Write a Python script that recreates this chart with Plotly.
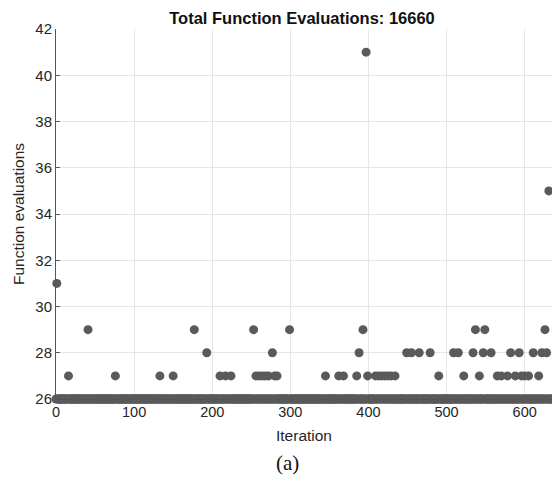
import plotly.graph_objects as go

# Data
n_iterations = 636
base_evals = 26
iters_27 = [16, 76, 133, 150, 210, 217, 224, 256, 260, 264, 268, 272, 280, 283,
            345, 362, 368, 385, 399, 409, 413, 417, 421, 425, 429, 434, 490, 522,
            542, 565, 570, 578, 588, 596, 600, 605, 618]
iters_28 = [193, 277, 388, 449, 455, 465, 479, 509, 515, 534, 547, 557, 582, 593,
            611, 622, 628]
iters_29 = [41, 177, 253, 299, 393, 537, 549, 626]
other_iters = [1, 397, 631]
other_vals = [31, 41, 35]

x_ticks = [0, 100, 200, 300, 400, 500, 600]
y_ticks = [26, 28, 30, 32, 34, 36, 38, 40, 42]

iterations = list(range(n_iterations))
evals = [base_evals] * n_iterations
for i in iters_27:
    evals[i] = 27
for i in iters_28:
    evals[i] = 28
for i in iters_29:
    evals[i] = 29
for i, v in zip(other_iters, other_vals):
    evals[i] = v
total = sum(evals)

FONT = "Arial, 'Liberation Sans', Helvetica, sans-serif"
TXT = "#262626"

fig = go.Figure()
fig.add_trace(go.Scatter(
    x=iterations, y=evals, mode="markers",
    marker=dict(size=9, color="#5a5a5a", line=dict(width=0)),
    cliponaxis=False, showlegend=False,
))

fig.update_layout(
    width=552, height=477,
    margin=dict(l=56, r=0, t=29, b=78),
    paper_bgcolor="white", plot_bgcolor="white",
    font=dict(family=FONT, size=14, color=TXT),
    title=dict(text=f"<b>Total Function Evaluations: {total}</b>",
               x=302 / 552, xref="container", xanchor="center",
               y=1 - 18 / 477, yref="container", yanchor="middle",
               font=dict(family=FONT, size=16.5, color="#111111")),
    xaxis=dict(range=[0, 635], tickvals=x_ticks, ticks="inside", ticklen=4,
               tickcolor="#555555", showline=True, linecolor="#555555",
               linewidth=1, showgrid=True, gridcolor="#e6e6e6", gridwidth=1,
               zeroline=False, tickfont=dict(size=14.5, color=TXT),
               title=dict(text="Iteration", standoff=10,
                          font=dict(family=FONT, size=15.5, color=TXT))),
    yaxis=dict(range=[26, 42], tickvals=y_ticks, ticks="inside", ticklen=4,
               tickcolor="#555555", showline=True, linecolor="#555555",
               linewidth=1, showgrid=True, gridcolor="#e6e6e6", gridwidth=1,
               zeroline=False, tickfont=dict(size=15, color=TXT),
               title=dict(text="Function evaluations", standoff=6,
                          font=dict(family=FONT, size=15.5, color=TXT))),
    annotations=[dict(text="(a)", x=(287 - 56) / 496, y=-(476 - 399) / 370,
                      xref="paper", yref="paper",
                      xanchor="center", yanchor="bottom", showarrow=False,
                      borderpad=0,
                      font=dict(family="'Times New Roman', 'Liberation Serif', serif",
                                size=21, color="#111111"))],
)

fig.write_html("out.html")
